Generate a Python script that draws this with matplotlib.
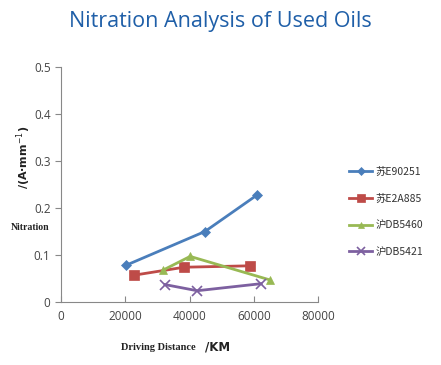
import matplotlib
matplotlib.use("Agg")
import matplotlib.pyplot as plt

# data
names = ["苏E90251", "苏E2A885", "沪DB5460", "沪DB5421"]
x_e90251 = [20200, 44800, 61100]
y_e90251 = [0.078, 0.150, 0.228]
x_e2a885 = [22700, 38300, 58800]
y_e2a885 = [0.057, 0.074, 0.077]
x_db5460 = [31800, 40200, 65000]
y_db5460 = [0.068, 0.097, 0.047]
x_db5421 = [32400, 42400, 62300]
y_db5421 = [0.037, 0.024, 0.039]

xticks = [0, 20000, 40000, 60000, 80000]
yticks = [0, 0.1, 0.2, 0.3, 0.4, 0.5]
ytick_labels = ["0", "0.1", "0.2", "0.3", "0.4", "0.5"]

colors = ["#4a7ebb", "#be4b48", "#98b954", "#7d60a0"]
markers = ["D", "s", "^", "x"]
msizes = [5, 7, 6, 7]

plt.rcParams['font.family'] = ['Noto Sans CJK SC', 'DejaVu Sans']

fig = plt.figure(figsize=(4.41, 3.65), dpi=100)
ax = fig.add_axes([61 / 441, 63 / 365, 257 / 441, 235 / 365])

series = [(x_e90251, y_e90251), (x_e2a885, y_e2a885),
          (x_db5460, y_db5460), (x_db5421, y_db5421)]
for (xs, ys), nm, c, m, ms in zip(series, names, colors, markers, msizes):
    ax.plot(xs, ys, color=c, marker=m, markersize=ms, linewidth=2.0,
            label=nm, markeredgewidth=1.2 if m == "x" else 0.5)

ax.set_xlim(0, 80000)
ax.set_ylim(0, 0.5)
ax.set_xticks(xticks)
ax.set_xticklabels([str(t) for t in xticks])
ax.set_yticks(yticks)
ax.set_yticklabels(ytick_labels)

for s in ["top", "right"]:
    ax.spines[s].set_visible(False)
for s in ["left", "bottom"]:
    ax.spines[s].set_color("#888888")
ax.tick_params(axis="y", direction="out", length=4, color="#888888",
               labelsize=8.5, labelcolor="#444444")
ax.tick_params(axis="x", direction="in", length=4, color="#888888",
               labelsize=8.5, labelcolor="#444444", pad=6)
for lab in ax.get_xticklabels() + ax.get_yticklabels():
    lab.set_family(["Open Sans", "DejaVu Sans"])

# title and axis labels
fig.text(0.5, 1 - 22 / 365, "Nitration Analysis of Used Oils", ha="center",
         va="center", fontsize=15.5, color="#1f5fa8", family="Open Sans")
fig.text(24 / 441, 1 - 157 / 365, "/(A·mm$^{-1}$)", rotation=90, ha="center",
         va="center", fontsize=8, fontweight="bold", family="DejaVu Sans",
         color="#222222")
fig.text(30 / 441, 1 - 228 / 365, "Nitration", ha="center", va="center",
         fontsize=7, fontweight="bold", family="Liberation Serif",
         color="#222222")
fig.text(158 / 441, 1 - 347 / 365, "Driving Distance", ha="center",
         va="center", fontsize=7.5, fontweight="bold",
         family="Liberation Serif", color="#222222")
fig.text(205 / 441, 1 - 347 / 365, "/KM", ha="left", va="center",
         fontsize=8.5, fontweight="bold", family="DejaVu Sans",
         color="#222222")

leg = fig.legend(loc="center left", bbox_to_anchor=(340 / 441, 1 - 212 / 365),
                 frameon=False, fontsize=7.5, handlelength=2.2,
                 labelspacing=1.6, handletextpad=0.3, markerscale=0.8)
for t in leg.get_texts():
    t.set_color("#333333")

fig.savefig("out.png", dpi=100)
